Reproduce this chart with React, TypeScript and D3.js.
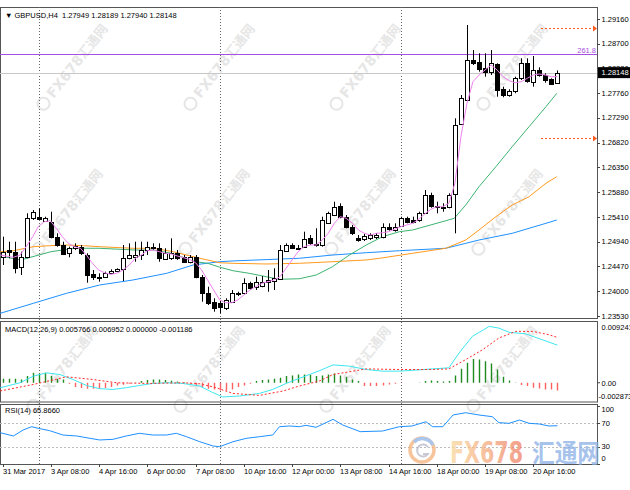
import React from 'react';
import * as d3 from 'd3';

// ---------- data (GBPUSD H4, bars from 31 Mar 2017 00:00) ----------
const opens = [1.24655,1.24782,1.24750,1.24465,1.24655,1.25384,1.25414,1.25338,1.25319,1.25035,
1.24877,1.24731,1.24815,1.24845,1.24687,1.24321,1.24276,1.24276,1.24340,1.24384,
1.24416,1.24625,1.24644,1.24687,1.24782,1.24815,1.24826,1.24606,1.24625,1.24720,
1.24644,1.24560,1.24655,1.24276,1.23972,1.23801,1.23771,1.23676,1.23801,1.23942,
1.23961,1.24150,1.24086,1.24099,1.24181,1.24194,1.24226,1.24769,1.24877,1.24815,
1.24845,1.25004,1.24896,1.24877,1.25300,1.25446,1.25617,1.25414,1.25224,1.25004,
1.24985,1.25004,1.25023,1.25035,1.25213,1.25162,1.25238,1.25384,1.25352,1.25352,
1.25490,1.25826,1.25617,1.25604,1.25593,1.25845,1.27173,1.27629,1.28388,1.28355,
1.28230,1.28166,1.28312,1.27832,1.27718,1.27799,1.28040,1.28325,1.27976,1.28198,
1.28103,1.28021,1.27949];
const highs = [1.25035,1.24940,1.24940,1.24750,1.25479,1.25541,1.25574,1.25414,1.25509,1.25099,
1.24940,1.24845,1.24909,1.24877,1.24720,1.24403,1.24340,1.24371,1.24416,1.24435,
1.24877,1.24909,1.24940,1.24940,1.24940,1.24909,1.24909,1.24815,1.25004,1.24782,
1.24687,1.24687,1.24687,1.24308,1.24086,1.23866,1.23820,1.23866,1.24023,1.23991,
1.24245,1.24181,1.24276,1.24289,1.24403,1.24435,1.24877,1.24909,1.24909,1.24877,
1.25130,1.25067,1.25194,1.25414,1.25509,1.25699,1.25668,1.25446,1.25257,1.25067,
1.25086,1.25099,1.25105,1.25289,1.25289,1.25289,1.25414,1.25414,1.25414,1.25509,
1.25921,1.25870,1.25699,1.25668,1.25858,1.27281,1.27723,1.29052,1.28577,1.28515,
1.28515,1.28577,1.28325,1.27881,1.27832,1.28071,1.28420,1.28420,1.28463,1.28249,
1.28135,1.28040,1.28189];
const lows = [1.24498,1.24625,1.24340,1.24308,1.24625,1.25352,1.25352,1.25319,1.25004,1.24845,
1.24687,1.24644,1.24782,1.24687,1.24162,1.24213,1.24181,1.24257,1.24321,1.24365,
1.24194,1.24606,1.24560,1.24593,1.24687,1.24782,1.24560,1.24593,1.24593,1.24593,
1.24541,1.24530,1.24245,1.23801,1.23739,1.23612,1.23581,1.23644,1.23782,1.23909,
1.23928,1.24023,1.24023,1.24075,1.23991,1.24023,1.24213,1.24750,1.24801,1.24782,
1.24826,1.24877,1.24845,1.24845,1.25289,1.25427,1.25384,1.25194,1.25067,1.24940,
1.24953,1.24972,1.24991,1.25004,1.25148,1.25130,1.25224,1.25289,1.25289,1.25319,
1.25479,1.25585,1.25479,1.25509,1.25574,1.25099,1.27154,1.27615,1.28293,1.28166,
1.28071,1.28103,1.27691,1.27680,1.27691,1.27756,1.28008,1.27957,1.27881,1.28071,
1.27957,1.27913,1.27940];
const closes = [1.24750,1.24750,1.24435,1.24655,1.25384,1.25509,1.25365,1.25384,1.25035,1.24877,
1.24706,1.24815,1.24858,1.24720,1.24308,1.24276,1.24245,1.24340,1.24389,1.24416,
1.24625,1.24687,1.24687,1.24782,1.24845,1.24845,1.24625,1.24720,1.24720,1.24625,
1.24560,1.24644,1.24276,1.23961,1.23782,1.23676,1.23695,1.23834,1.23961,1.23972,
1.24150,1.24056,1.24181,1.24181,1.24213,1.24245,1.24782,1.24877,1.24826,1.24796,
1.24985,1.24909,1.24877,1.25352,1.25479,1.25604,1.25414,1.25224,1.25099,1.24972,
1.25048,1.25067,1.25067,1.25224,1.25175,1.25224,1.25384,1.25319,1.25319,1.25490,
1.25826,1.25617,1.25593,1.25574,1.25826,1.27154,1.27661,1.28388,1.28336,1.28211,
1.28166,1.28325,1.27818,1.27723,1.27799,1.28040,1.28325,1.27995,1.28198,1.28103,
1.28008,1.27932,1.28148];

// moving averages: [bar index, price]
const maFast: [number, number][] = [[-0.4,1.24687],[1.8,1.24644],[2.9,1.24687],[3.9,1.24845],[5,1.25035],[5.9,1.25224],[6.9,1.25319],[7.9,1.25338],[8.9,1.25194],[9.9,1.25035],[10.9,1.24909],[11.9,1.24845],[12.9,1.24815],[13.9,1.24687],[14.9,1.24530],[15.9,1.24403],[16.9,1.24352],[17.9,1.24321],[18.9,1.24340],[20,1.24403],[21,1.24498],[22,1.24625],[23,1.24687],[24,1.24769],[25,1.24782],[26,1.24750],[27,1.24720],[28,1.24706],[29,1.24668],[30,1.24636],[31,1.24606],[32,1.24541],[33,1.24403],[34,1.24213],[35,1.24023],[36,1.23834],[37,1.23782],[38,1.23782],[39,1.23834],[40,1.23928],[41,1.24023],[42,1.24086],[43,1.24150],[44,1.24181],[45,1.24213],[46,1.24276],[47,1.24435],[48,1.24593],[49,1.24750],[50,1.24845],[51,1.24877],[52,1.24877],[53,1.24972],[54,1.25099],[55,1.25289],[56,1.25414],[57,1.25384],[58,1.25289],[59,1.25162],[60,1.25099],[61,1.25067],[62,1.25099],[63,1.25110],[64,1.25130],[66,1.25224],[68,1.25289],[69,1.25365],[70,1.25466],[71,1.25554],[72,1.25604],[73,1.25604],[74,1.25668],[75,1.26048],[76,1.26932],[77,1.27566],[78,1.27976],[79,1.28103],[80,1.28198],[81,1.28293],[82,1.28198],[83,1.28071],[84,1.27995],[85,1.27957],[86,1.27976],[87,1.28040],[88,1.28103],[89,1.28122],[90,1.28103],[91,1.28071],[92,1.28071]];
const maMid: [number, number][] = [[-0.4,1.24668],[3,1.24593],[8,1.24750],[12,1.24815],[16,1.24815],[22,1.24782],[25,1.24782],[28,1.24720],[32,1.24560],[34,1.24530],[36,1.24457],[38.2,1.24389],[40.9,1.24340],[43.7,1.24276],[45.9,1.24226],[49.2,1.24237],[52,1.24308],[54.7,1.24465],[57.5,1.24687],[60.3,1.24877],[63,1.25035],[65.8,1.25130],[68,1.25162],[73.5,1.25338],[74.9,1.25384],[76.8,1.25636],[79,1.25984],[81.8,1.26363],[84.5,1.26742],[87.3,1.27122],[90.1,1.27501],[91.9,1.27756]];
const maSlow: [number, number][] = [[-0.4,1.24750],[1.8,1.24769],[5.1,1.24845],[7.8,1.24864],[10.6,1.24877],[13.4,1.24864],[16.1,1.24845],[21.6,1.24815],[25,1.24815],[28.3,1.24750],[30.5,1.24687],[32.7,1.24625],[36,1.24541],[38.2,1.24530],[43.7,1.24517],[49.2,1.24530],[54.7,1.24560],[60.3,1.24593],[62.5,1.24625],[68,1.24720],[73.5,1.24815],[76.8,1.24972],[79,1.25162],[81.8,1.25414],[84.5,1.25636],[87.3,1.25794],[90.1,1.26048],[91.9,1.26173]];
const maLong: [number, number][] = [[-0.4,1.23581],[5.1,1.23771],[10.6,1.23961],[16.1,1.24118],[21.6,1.24213],[27.2,1.24340],[31.6,1.24498],[36,1.24560],[38.2,1.24575],[43.7,1.24600],[49.2,1.24625],[54.7,1.24687],[60.3,1.24731],[65.8,1.24769],[73.5,1.24815],[76.8,1.24909],[79,1.24972],[84.5,1.25099],[87.3,1.25194],[90.1,1.25289],[91.9,1.25352]];

// levels
const bidPrice = 1.28148;
const fiboPrice = 1.28496;
const fiboLabel = '261.8';
const targetPrices = [1.28989, 1.26902];

// MACD(12,26,9)
const macdMain: [number, number][] = [[-0.4,-0.00076],[2.9,0],[5.1,0.00102],[7.3,0.00152],[9.5,0.00126],[11.7,0.0005],[13.9,-0.00041],[16.1,-0.00091],[18.3,-0.00102],[20.5,-0.00076],[22.7,-0.00041],[24.9,-0.00011],[27.2,0],[29.9,-0.00011],[32.7,-0.0005],[34.9,-0.00152],[36.5,-0.00218],[39.3,-0.00203],[42.6,-0.00163],[44.8,-0.00102],[47,-0.00011],[49.2,0.00068],[52.5,0.00183],[54.8,0.00274],[57.5,0.00255],[60.3,0.00203],[63,0.00178],[65.8,0.00178],[68.5,0.00194],[71.3,0.00213],[74,0.00229],[75.7,0.00457],[77.9,0.00712],[80.7,0.00864],[82.3,0.00838],[84,0.00773],[86.7,0.00751],[89.5,0.0066],[92,0.005766]];
const macdSignal: [number, number][] = [[-0.4,-0.00126],[5.1,-0.00026],[10.6,0.00091],[15,0.0005],[18.9,0],[24.4,-0.00011],[29.9,0],[32.7,-0.00015],[35.4,-0.00076],[38.2,-0.00163],[42.6,-0.00194],[46.5,-0.00126],[49.2,-0.0005],[52.5,0.00026],[54.8,0.00126],[60.3,0.00213],[65.8,0.00203],[71.3,0.00203],[74,0.00213],[76.8,0.00355],[79.6,0.00507],[82.3,0.00686],[85.1,0.00788],[87.9,0.00788],[90.6,0.00736],[92,0.006952]];
const macdHist = [0.00061,0.00061,0.00061,0.0005,0.00102,0.00152,0.00142,0.00152,0.00102,0.00061,0.0005,
-0.00015,-0.00066,-0.00081,-0.00091,-0.00091,-0.00091,-0.00081,-0.00066,-0.00041,-0.0003,-0.00015,
0.00005,0.00026,0.00041,0.0005,0.0005,0.00041,0.0003,0.0002,0.00008,-0.00015,
-0.00041,-0.00066,-0.00091,-0.00102,-0.00117,-0.00117,-0.00102,-0.00066,-0.00041,-0.00015,
0.00026,0.00041,0.0005,0.00061,0.00076,0.00102,0.00111,0.00126,0.00126,0.00122,0.00102,0.00111,0.00126,0.00142,0.00111,0.00091,0.0005,0.00026,
-0.0005,-0.0005,-0.0005,-0.00041,-0.00026,-0.00015,-0.00005,0,0,0.00005,0.00026,0.00035,0.00026,0.0002,0.00026,0.00111,0.00213,0.00305,0.00366,0.00355,0.00331,0.00294,0.00203,0.00091,0.00035,0.00005,-0.00035,-0.0005,-0.00076,-0.00087,-0.00102,-0.00102,-0.001186];

// RSI(14)
const rsi: [number, number][] = [[-0.4,53.9],[1.8,48.3],[3.4,58.5],[4.8,64.2],[5.9,61.4],[7.8,57.4],[10,50],[12.3,48.3],[14.5,44.3],[16.1,41.5],[18.3,42.6],[20.5,48.3],[22.7,52.9],[24.9,50],[27.2,50],[28.8,52.9],[30.5,47.1],[32.7,38.5],[34.9,31.2],[36,30],[38.2,38.5],[40.4,44.3],[42.6,47.1],[44.8,50],[45.9,64.2],[47.6,65.4],[49.2,64.2],[50.3,66.5],[52,63.2],[54.8,76.8],[56.4,67.1],[59.3,55.7],[63,56.8],[65.8,64.2],[67.9,65.4],[70.2,72.7],[71.3,64.2],[73,64.2],[74.7,84.2],[76.8,88.1],[79,84.2],[81.2,81.3],[82.3,71.1],[84,70],[85.7,75.6],[87.3,70],[89,68.8],[90.6,65.4],[92,65.87]];

// axes
const priceTicks = [1.29160,1.28700,1.28230,1.27760,1.27290,1.26820,1.26350,1.25880,1.25410,1.24940,1.24470,1.24000,1.23530];
const timeTickBars = [0,8,16,24,32,40,48,56,64,72,80,88];
const timeLabels = ['31 Mar 2017','3 Apr 08:00','4 Apr 16:00','6 Apr 00:00','7 Apr 08:00','10 Apr 16:00','12 Apr 00:00','13 Apr 08:00','14 Apr 16:00','18 Apr 00:00','19 Apr 08:00','20 Apr 16:00'];
const weekSeparatorBars = [6, 36, 66];
const headerMain = '▼ GBPUSD,H4  1.27949 1.28189 1.27940 1.28148';
const headerMacd = 'MACD(12,26,9) 0.005766 0.006952 0.000000 -0.001186';
const headerRsi = 'RSI(14) 65.8660';
const macdMax = 0.009241;
const macdMin = -0.002873;
const rsiLevels = [70, 30];
const rsiTicks = [100, 70, 30, 0];

const FONT = "'Liberation Sans', Arial, sans-serif";
const FS = 7.5;

export default function App() {
  const AX = 597;
  const MAIN = { top: 7, bottom: 318 };
  const MACD = { top: 321, bottom: 401.5 };
  const RSI = { top: 404, bottom: 464 };

  const x = d3.scaleLinear().domain([0, 92]).range([2.6, 557.4]);
  const yM = d3.scaleLinear().domain([1.2353, 1.2916]).range([316, 19.3]);
  const yD = d3.scaleLinear().domain([macdMin, macdMax]).range([401.5, 322.5]);
  const yR = d3.scaleLinear().domain([0, 100]).range([464.25, 405.75]);
  const px = (i: number) => Math.round(x(i)) + 0.5;

  const lineM = d3.line<[number, number]>().x(d => x(d[0])).y(d => yM(d[1]));
  const lineD = d3.line<[number, number]>().x(d => x(d[0])).y(d => yD(d[1]));
  const lineR = d3.line<[number, number]>().x(d => x(d[0])).y(d => yR(d[1]));

  const wmCols = [75, 222, 368, 515];
  const wmRows = [70, 215, 372];

  return (
    <svg width={630} height={490} style={{ position: 'absolute', left: 0, top: 0, background: '#fff' }}
      fontFamily={FONT}>
      <defs>
        <clipPath id="cMain"><rect x={0} y={MAIN.top} width={AX} height={MAIN.bottom - MAIN.top} /></clipPath>
        <clipPath id="cMacd"><rect x={0} y={MACD.top} width={AX} height={MACD.bottom - MACD.top} /></clipPath>
        <clipPath id="cRsi"><rect x={0} y={RSI.top} width={AX} height={RSI.bottom - RSI.top} /></clipPath>
        <linearGradient id="fxg" x1="0" x2="1" y1="0" y2="0">
          <stop offset="0" stopColor="#f9d89c" />
          <stop offset="1" stopColor="#ef7e62" />
        </linearGradient>
      </defs>
      <rect x={0} y={0} width={630} height={490} fill="#fff" />

      {/* diagonal watermarks */}
      {wmRows.map((ry, ri) => wmCols.map((cx, ci) => (
        <g key={`wm${ri}-${ci}`} transform={`translate(${cx - ri * 5},${ry}) rotate(-52)`} opacity={0.42}>
          <circle cx={-46} cy={-4} r={6} fill="none" stroke="#c4c4c4" strokeWidth={2} />
          <text x={-36} y={1} fontSize={14} fontWeight="bold" fill="#c4c4c4" fontFamily="'DejaVu Sans', sans-serif">FX678</text>
          <text x={14} y={1} fontSize={13} fontWeight="bold" fill="#c4c4c4" fontFamily="'Noto Sans CJK SC', sans-serif">汇通网</text>
        </g>
      )))}

      {/* panel frames */}
      <rect x={0.5} y={MAIN.top + 0.5} width={AX} height={MAIN.bottom - MAIN.top} fill="none" stroke="#555" />
      <rect x={0.5} y={MACD.top + 0.5} width={AX} height={MACD.bottom - MACD.top} fill="none" stroke="#555" />
      <rect x={0.5} y={RSI.top + 0.5} width={AX} height={RSI.bottom - RSI.top} fill="none" stroke="#555" />

      {/* week separators */}
      {weekSeparatorBars.map(b => (
        <line key={`sep${b}`} x1={px(b)} x2={px(b)} y1={MAIN.top} y2={RSI.bottom} stroke="#666" strokeDasharray="1,2" />
      ))}

      {/* main panel */}
      <g clipPath="url(#cMain)">
        <line x1={0} x2={AX} y1={Math.round(yM(bidPrice)) + 0.5} y2={Math.round(yM(bidPrice)) + 0.5} stroke="#c8c8c8" />
        <line x1={0} x2={AX} y1={Math.round(yM(fiboPrice)) + 0.5} y2={Math.round(yM(fiboPrice)) + 0.5} stroke="#a64fe0" />
        {targetPrices.map(p => {
          const yy = Math.round(yM(p)) + 0.5;
          return (
            <g key={`tg${p}`}>
              <line x1={541} x2={593} y1={yy} y2={yy} stroke="#ff5a1e" strokeDasharray="2,2" />
              <path d={`M593,${yy - 3}L597,${yy}L593,${yy + 3}Z`} fill="#ff5a1e" />
            </g>
          );
        })}
        <path d={lineM(maLong) || ''} fill="none" stroke="#1e90ff" strokeWidth={1} />
        <path d={lineM(maSlow) || ''} fill="none" stroke="#ff9a1e" strokeWidth={1} />
        <path d={lineM(maMid) || ''} fill="none" stroke="#3cb371" strokeWidth={1} />
        {opens.map((o, i) => {
          const c = closes[i];
          const cx = px(i);
          const top = Math.round(yM(Math.max(o, c)));
          const bot = Math.round(yM(Math.min(o, c)));
          const bull = c >= o;
          return (
            <g key={`c${i}`}>
              <line x1={cx} x2={cx} y1={yM(highs[i])} y2={yM(lows[i])} stroke="#000" />
              <rect x={cx - 2} y={top + 0.5} width={4} height={Math.max(bot - top, 1)}
                fill={bull ? '#fff' : '#000'} stroke="#000" />
            </g>
          );
        })}
        <path d={lineM(maFast) || ''} fill="none" stroke="#ee82ee" strokeWidth={1} />
      </g>
      <text x={5} y={18} fontSize={FS} fill="#000" style={{ whiteSpace: 'pre' }}>{headerMain}</text>
      <text x={596} y={Math.round(yM(fiboPrice)) - 1.5} fontSize={FS} fill="#a64fe0" textAnchor="end">{fiboLabel}</text>

      {/* price axis */}
      {priceTicks.map(p => (
        <g key={`pt${p}`}>
          <line x1={AX} x2={AX + 3} y1={Math.round(yM(p)) + 0.5} y2={Math.round(yM(p)) + 0.5} stroke="#444" />
          <text x={601.5} y={yM(p)} dy="0.35em" fontSize={FS} fill="#000">{p.toFixed(5)}</text>
        </g>
      ))}
      <rect x={598} y={yM(bidPrice) - 5.5} width={32} height={11} fill="#000" />
      <text x={601.5} y={yM(bidPrice)} dy="0.35em" fontSize={FS} fill="#fff">{bidPrice.toFixed(5)}</text>

      {/* MACD panel */}
      <g clipPath="url(#cMacd)">
        {macdHist.map((v, i) => (
          <line key={`h${i}`} x1={px(i)} x2={px(i)} y1={yD(0)} y2={yD(v)}
            stroke={v >= 0 ? '#1f8a1f' : '#ff6060'} strokeWidth={1.4} />
        ))}
        <path d={lineD(macdMain) || ''} fill="none" stroke="#3ee6ef" strokeWidth={1} />
        <path d={lineD(macdSignal) || ''} fill="none" stroke="#ff2a2a" strokeWidth={1} strokeDasharray="2,2" />
      </g>
      <text x={5} y={332} fontSize={FS} fill="#000">{headerMacd}</text>
      <line x1={AX} x2={AX + 3} y1={yD(0)} y2={yD(0)} stroke="#444" />
      <text x={601.5} y={yD(macdMax) + 5.2} dy="0.35em" fontSize={FS} fill="#000">{macdMax.toFixed(6)}</text>
      <text x={601.5} y={yD(0) + 1} dy="0.35em" fontSize={FS} fill="#000">0.00</text>
      <text x={598.5} y={yD(macdMin) - 5.5} dy="0.35em" fontSize={FS} fill="#000">{macdMin.toFixed(6)}</text>

      {/* RSI panel */}
      <g clipPath="url(#cRsi)">
        {rsiLevels.map(l => (
          <line key={`rl${l}`} x1={0} x2={AX} y1={Math.round(yR(l)) + 0.5} y2={Math.round(yR(l)) + 0.5}
            stroke="#bbb" strokeDasharray="2,2" />
        ))}
        <path d={lineR(rsi) || ''} fill="none" stroke="#1e90ff" strokeWidth={1} />
      </g>
      <text x={5} y={413} fontSize={FS} fill="#000">{headerRsi}</text>
      {rsiTicks.map(t => {
        const yy = t === 100 ? yR(t) + 3.3 : t === 0 ? yR(t) - 6 : yR(t);
        return (
          <g key={`rt${t}`}>
            <line x1={AX} x2={AX + 3} y1={Math.round(yR(t)) + 0.5} y2={Math.round(yR(t)) + 0.5} stroke="#444" />
            <text x={601.5} y={yy} dy="0.35em" fontSize={FS} fill="#000">{t}</text>
          </g>
        );
      })}

      {/* time axis */}
      {timeTickBars.map((b, k) => (
        <g key={`tt${b}`}>
          <line x1={px(b)} x2={px(b)} y1={RSI.bottom} y2={RSI.bottom + 3} stroke="#444" />
          <text x={px(b) - 0.5} y={473.5} fontSize={FS} fill="#000">{timeLabels[k]}</text>
        </g>
      ))}

      {/* big watermark */}
      <g opacity={0.75}>
        <circle cx={422} cy={450} r={12} fill="none" stroke="#f4b27c" strokeWidth={3.5} />
        <path d="M 414,442 A 12 12 0 0 1 433,445" fill="none" stroke="#8fb3e6" strokeWidth={3.5} />
        <path d="M 428,447 A 6 6 0 1 0 428,454 L 423,454" fill="none" stroke="#b8b8c8" strokeWidth={2} />
        <text x={450} y={463} fontSize={31} fontWeight="bold" fill="url(#fxg)" textLength={73}
          lengthAdjust="spacingAndGlyphs" fontFamily="'DejaVu Sans', sans-serif">FX678</text>
        <text x={532} y={462} fontSize={25} fontWeight="bold" fill="#8ab0e6" textLength={68}
          lengthAdjust="spacingAndGlyphs" fontFamily="'Noto Sans CJK SC', sans-serif">汇通网</text>
      </g>
    </svg>
  );
}
